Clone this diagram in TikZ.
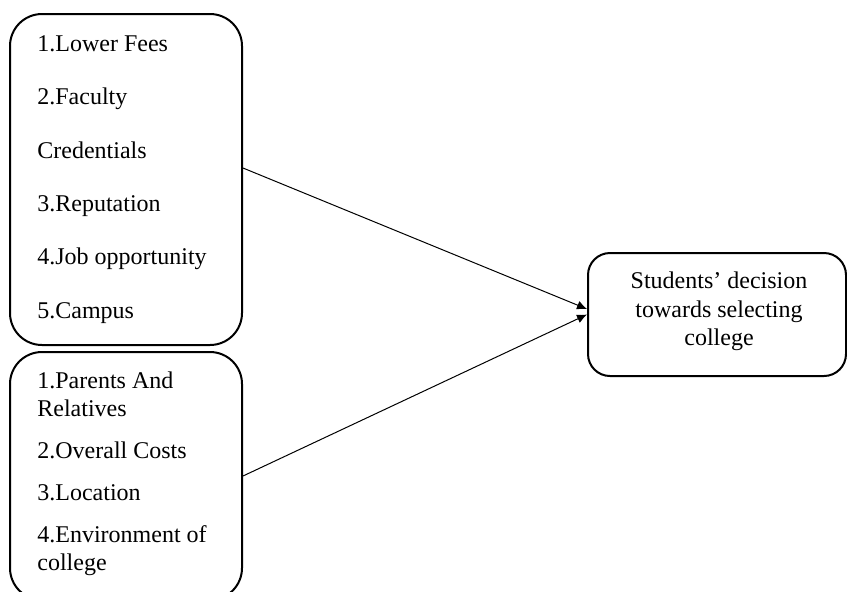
\documentclass[tikz,border=0pt]{standalone}
\usepackage{fontspec}
\setmainfont{Liberation Serif}
\usetikzlibrary{arrows.meta}

\begin{document}
\begin{tikzpicture}[x=0.5pt,y=-0.5pt]
		\tikzset{box/.style = {draw, line width=1pt, rounded corners=16pt, inner sep=0pt}}
		\tikzset{items/.style = {anchor=west, align=left, inner sep=0pt}}
		\tikzset{edge/.style = {-{Latex[length=5pt,width=4.5pt]}, line width=0.5pt}}
		
		\useasboundingbox (0,0) rectangle (847,591);
		
		\node[box, minimum width=116pt, minimum height=165.5pt] (top) at ( 126, 179.5) {};
		\node[box, minimum width=116pt, minimum height=124pt]   (bot) at ( 126,   476) {};
		\node[box, minimum width=129pt, minimum height=61.5pt, rounded corners=11pt] (goal) at ( 717, 314.5) {};
		
		\node[items, font=\fontsize{12}{26.7}\selectfont] (topitems) at (37, 179.5)
			{1.Lower Fees\\2.Faculty\\Credentials\\3.Reputation\\4.Job opportunity\\5.Campus};
		\node[items, font=\fontsize{12}{14}\selectfont] (botitems) at (37, 474)
			{1.Parents And\\Relatives\\[7pt]2.Overall Costs\\[7pt]3.Location\\[7pt]4.Environment of\\college};
		\node[align=center, inner sep=0pt, font=\fontsize{12}{14.25}\selectfont] (goaltext) at (719, 311.5)
			{Students' decision\\towards selecting\\college};
		
		\draw[edge] ([yshift=5.75pt]top.east) to ([yshift=2.75pt]goal.west);
		\draw[edge] (bot.east) to (goal.west);
\end{tikzpicture}
\end{document}
